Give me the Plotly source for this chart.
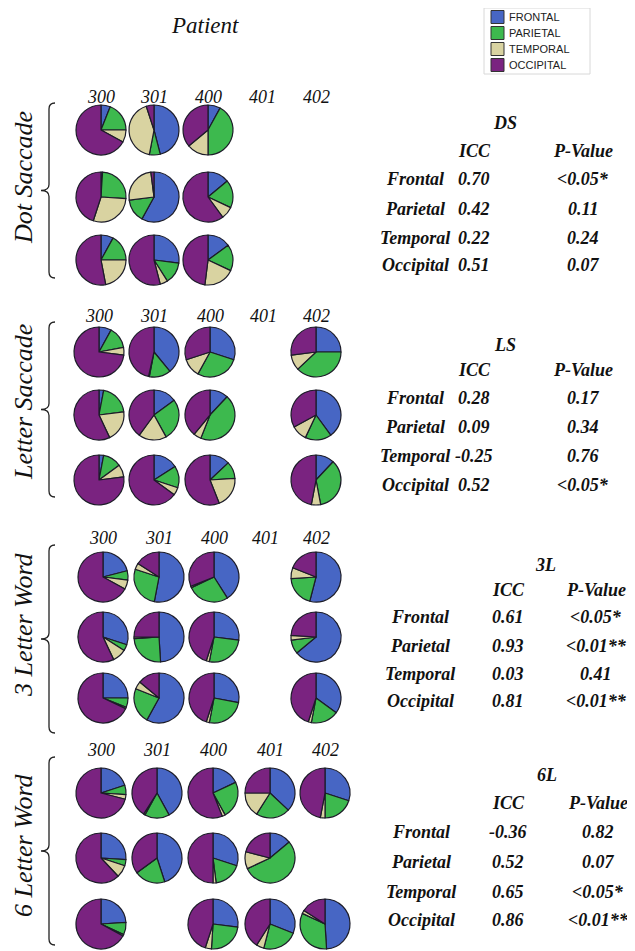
import plotly.graph_objects as go

W, H = 635, 951
OFF = 8  # default page margin of the browser body
FW, FH = W - OFF, H - OFF

LABELS = ["FRONTAL", "PARIETAL", "TEMPORAL", "OCCIPITAL"]
COLORS = ["#4766C4", "#3DB94E", "#D9D3A1", "#7A2380"]
PATIENTS = ["300", "301", "400", "401", "402"]
REGIONS = ["Frontal", "Parietal", "Temporal", "Occipital"]

# pie shares [Frontal, Parietal, Temporal, Occipital] per session (3 rows)
DS_300 = [[6, 19, 8, 67], [1, 25, 29, 45], [8, 17, 22, 53]]
DS_301 = [[46, 7, 42, 5], [58, 15, 25, 2], [27, 14, 5, 54]]
DS_400 = [[8, 42, 14, 36], [14, 18, 8, 60], [15, 17, 20, 48]]
DS_401 = [None, None, None]
DS_402 = [None, None, None]

LS_300 = [[8, 14, 5, 73], [3, 20, 20, 57], [3, 12, 8, 77]]
LS_301 = [[39, 14, 0.5, 46.5], [15, 27, 18, 40], [16, 14, 5, 65]]
LS_400 = [[30, 28, 12, 30], [12, 44, 5, 39], [13, 11, 20, 56]]
LS_401 = [None, None, None]
LS_402 = [[25, 38, 10, 27], [40, 17, 10, 33], [12, 35, 6, 47]]

TL_300 = [[21, 6, 6, 67], [30, 4, 9, 57], [25, 6, 1, 68]]
TL_301 = [[53, 27, 4, 16], [49, 25, 1, 25], [58, 23, 5, 14]]
TL_400 = [[41, 27, 1, 31], [27, 26, 2, 45], [28, 25, 2, 45]]
TL_401 = [None, None, None]
TL_402 = [[54, 20, 7, 19], [64, 9, 3, 24], [35, 18, 2, 45]]

SL_300 = [[20, 6, 3, 71], [26, 4, 8, 62], [24, 8, 1, 67]]
SL_301 = [[42, 16, 1, 41], [45, 20, 0, 35], None]
SL_400 = [[18, 24, 2, 56], [30, 18, 2, 50], [27, 24, 4, 45]]
SL_401 = [[37, 22, 16, 25], [14, 54, 11, 21], [31, 23, 5, 41]]
SL_402 = [[30, 20, 3, 47], None, [49, 33, 2, 16]]

DS_ICC = ["0.70", "0.42", "0.22", "0.51"]
DS_P = ["<0.05*", "0.11", "0.24", "0.07"]
LS_ICC = ["0.28", "0.09", "-0.25", "0.52"]
LS_P = ["0.17", "0.34", "0.76", "<0.05*"]
TL_ICC = ["0.61", "0.93", "0.03", "0.81"]
TL_P = ["<0.05*", "<0.01**", "0.41", "<0.01**"]
SL_ICC = ["-0.36", "0.52", "0.65", "0.86"]
SL_P = ["0.82", "0.07", "<0.05*", "<0.01**"]

GROUPS = [
    dict(name="Dot Saccade", code="DS", data=[DS_300, DS_301, DS_400, DS_401, DS_402],
         icc=DS_ICC, p=DS_P,
         cols=[101, 154, 208, 262, 316], rows=[130, 197, 260], lab_y=97,
         brace=(103, 278), name_y=178,
         tab=dict(title=(505, 123), icc_x=474, p_x=583, lab_x=415, head_y=151,
                  row_y=[179, 209, 238, 265])),
    dict(name="Letter Saccade", code="LS", data=[LS_300, LS_301, LS_400, LS_401, LS_402],
         icc=LS_ICC, p=LS_P,
         cols=[99, 154, 210, 263, 316], rows=[352, 415, 480], lab_y=316,
         brace=(322, 497), name_y=402,
         tab=dict(title=(505, 345), icc_x=474, p_x=583, lab_x=415, head_y=370,
                  row_y=[398, 427, 456, 485])),
    dict(name="3 Letter Word", code="3L", data=[TL_300, TL_301, TL_400, TL_401, TL_402],
         icc=TL_ICC, p=TL_P,
         cols=[103, 159, 214, 265, 316], rows=[577, 637, 698], lab_y=538,
         brace=(545, 733), name_y=625,
         tab=dict(title=(545, 565), icc_x=508, p_x=596, lab_x=420, head_y=590,
                  row_y=[617, 646, 674, 701])),
    dict(name="6 Letter Word", code="6L", data=[SL_300, SL_301, SL_400, SL_401, SL_402],
         icc=SL_ICC, p=SL_P,
         cols=[101, 157, 213, 270, 325], rows=[793, 858, 924], lab_y=750,
         brace=(757, 945), name_y=845,
         tab=dict(title=(547, 775), icc_x=508, p_x=598, lab_x=421, head_y=803,
                  row_y=[832, 862, 892, 920])),
]

R = 25
SERIF = "Liberation Serif"


def fx(x):
    return (x - OFF) / FW


def fy(y):
    return 1 - (y - OFF) / FH


fig = go.Figure()
annotations = []
shapes = []

for g in GROUPS:
    for ci, pdata in enumerate(g["data"]):
        cx = g["cols"][ci]
        for ri, vals in enumerate(pdata):
            if vals is None:
                continue
            cy = g["rows"][ri]
            fig.add_trace(go.Pie(
                labels=LABELS, values=vals, sort=False, direction="clockwise",
                rotation=0, textinfo="none", hoverinfo="label+percent",
                marker=dict(colors=COLORS, line=dict(color="#1c1c28", width=1.2)),
                domain=dict(x=[fx(cx - R), fx(cx + R)], y=[fy(cy + R), fy(cy - R)]),
                showlegend=False,
            ))
    for ci, pid in enumerate(PATIENTS):
        annotations.append(dict(x=g["cols"][ci], y=g["lab_y"], text=f"<i>{pid}</i>",
                                showarrow=False, xref="x", yref="y",
                                font=dict(family=SERIF, size=18, color="#111")))
    annotations.append(dict(x=23, y=g["name_y"], text=f"<i>{g['name']}</i>", textangle=-90,
                            showarrow=False, xref="x", yref="y",
                            font=dict(family=SERIF, size=26, color="#111")))
    y0, y1 = g["brace"]
    ym = (y0 + y1) / 2
    x = 49
    w = 6
    path = (f"M {x+w},{y0} Q {x},{y0} {x},{y0+w} L {x},{ym-w} Q {x},{ym} {x-8},{ym} "
            f"Q {x},{ym} {x},{ym+w} L {x},{y1-w} Q {x},{y1} {x+w},{y1}")
    shapes.append(dict(type="path", path=path, xref="x", yref="y",
                       line=dict(color="#222", width=1.3)))
    t = g["tab"]
    bfont = dict(family=SERIF, size=18, color="#111")
    annotations.append(dict(x=t["title"][0], y=t["title"][1], text=f"<b><i>{g['code']}</i></b>",
                            showarrow=False, xref="x", yref="y", font=bfont))
    annotations.append(dict(x=t["icc_x"], y=t["head_y"], text="<b><i>ICC</i></b>",
                            showarrow=False, xref="x", yref="y", font=bfont))
    annotations.append(dict(x=t["p_x"], y=t["head_y"], text="<b><i>P-Value</i></b>",
                            showarrow=False, xref="x", yref="y", font=bfont))
    for k, reg in enumerate(REGIONS):
        yy = t["row_y"][k]
        annotations.append(dict(x=t["lab_x"], y=yy, text=f"<b><i>{reg}</i></b>",
                                showarrow=False, xref="x", yref="y", font=bfont))
        annotations.append(dict(x=t["icc_x"], y=yy, text=f"<b><i>{g['icc'][k]}</i></b>",
                                showarrow=False, xref="x", yref="y", font=bfont))
        annotations.append(dict(x=t["p_x"], y=yy,
                                text=f"<b><i>{g['p'][k].replace('<', '&lt;')}</i></b>",
                                showarrow=False, xref="x", yref="y", font=bfont))

annotations.append(dict(x=205, y=25, text="<i>Patient</i>", showarrow=False, xref="x", yref="y",
                        font=dict(family=SERIF, size=23, color="#111")))

# legend (key) drawn as boxes + labels
LEG_Y = [17, 33, 49, 65]
shapes.append(dict(type="rect", x0=484, x1=590, y0=OFF, y1=74, xref="x", yref="y",
                   line=dict(color="#d8d8d8", width=1), fillcolor="rgba(0,0,0,0)"))
for lab, col, yy in zip(LABELS, COLORS, LEG_Y):
    shapes.append(dict(type="rect", x0=491, x1=504, y0=yy - 6.5, y1=yy + 6.5, xref="x", yref="y",
                       line=dict(color="#333", width=1), fillcolor=col))
    annotations.append(dict(x=507, y=yy, text=lab, showarrow=False, xref="x", yref="y",
                            xanchor="left", font=dict(family="Liberation Sans", size=11,
                                                      color="#222")))

fig.update_layout(
    width=FW, height=FH, margin=dict(l=0, r=0, t=0, b=0),
    paper_bgcolor="white", plot_bgcolor="white", showlegend=False,
    xaxis=dict(range=[OFF, W], visible=False, fixedrange=True, domain=[0, 1]),
    yaxis=dict(range=[H, OFF], visible=False, fixedrange=True, domain=[0, 1]),
    annotations=annotations, shapes=shapes,
)

fig.write_html("out.html")
